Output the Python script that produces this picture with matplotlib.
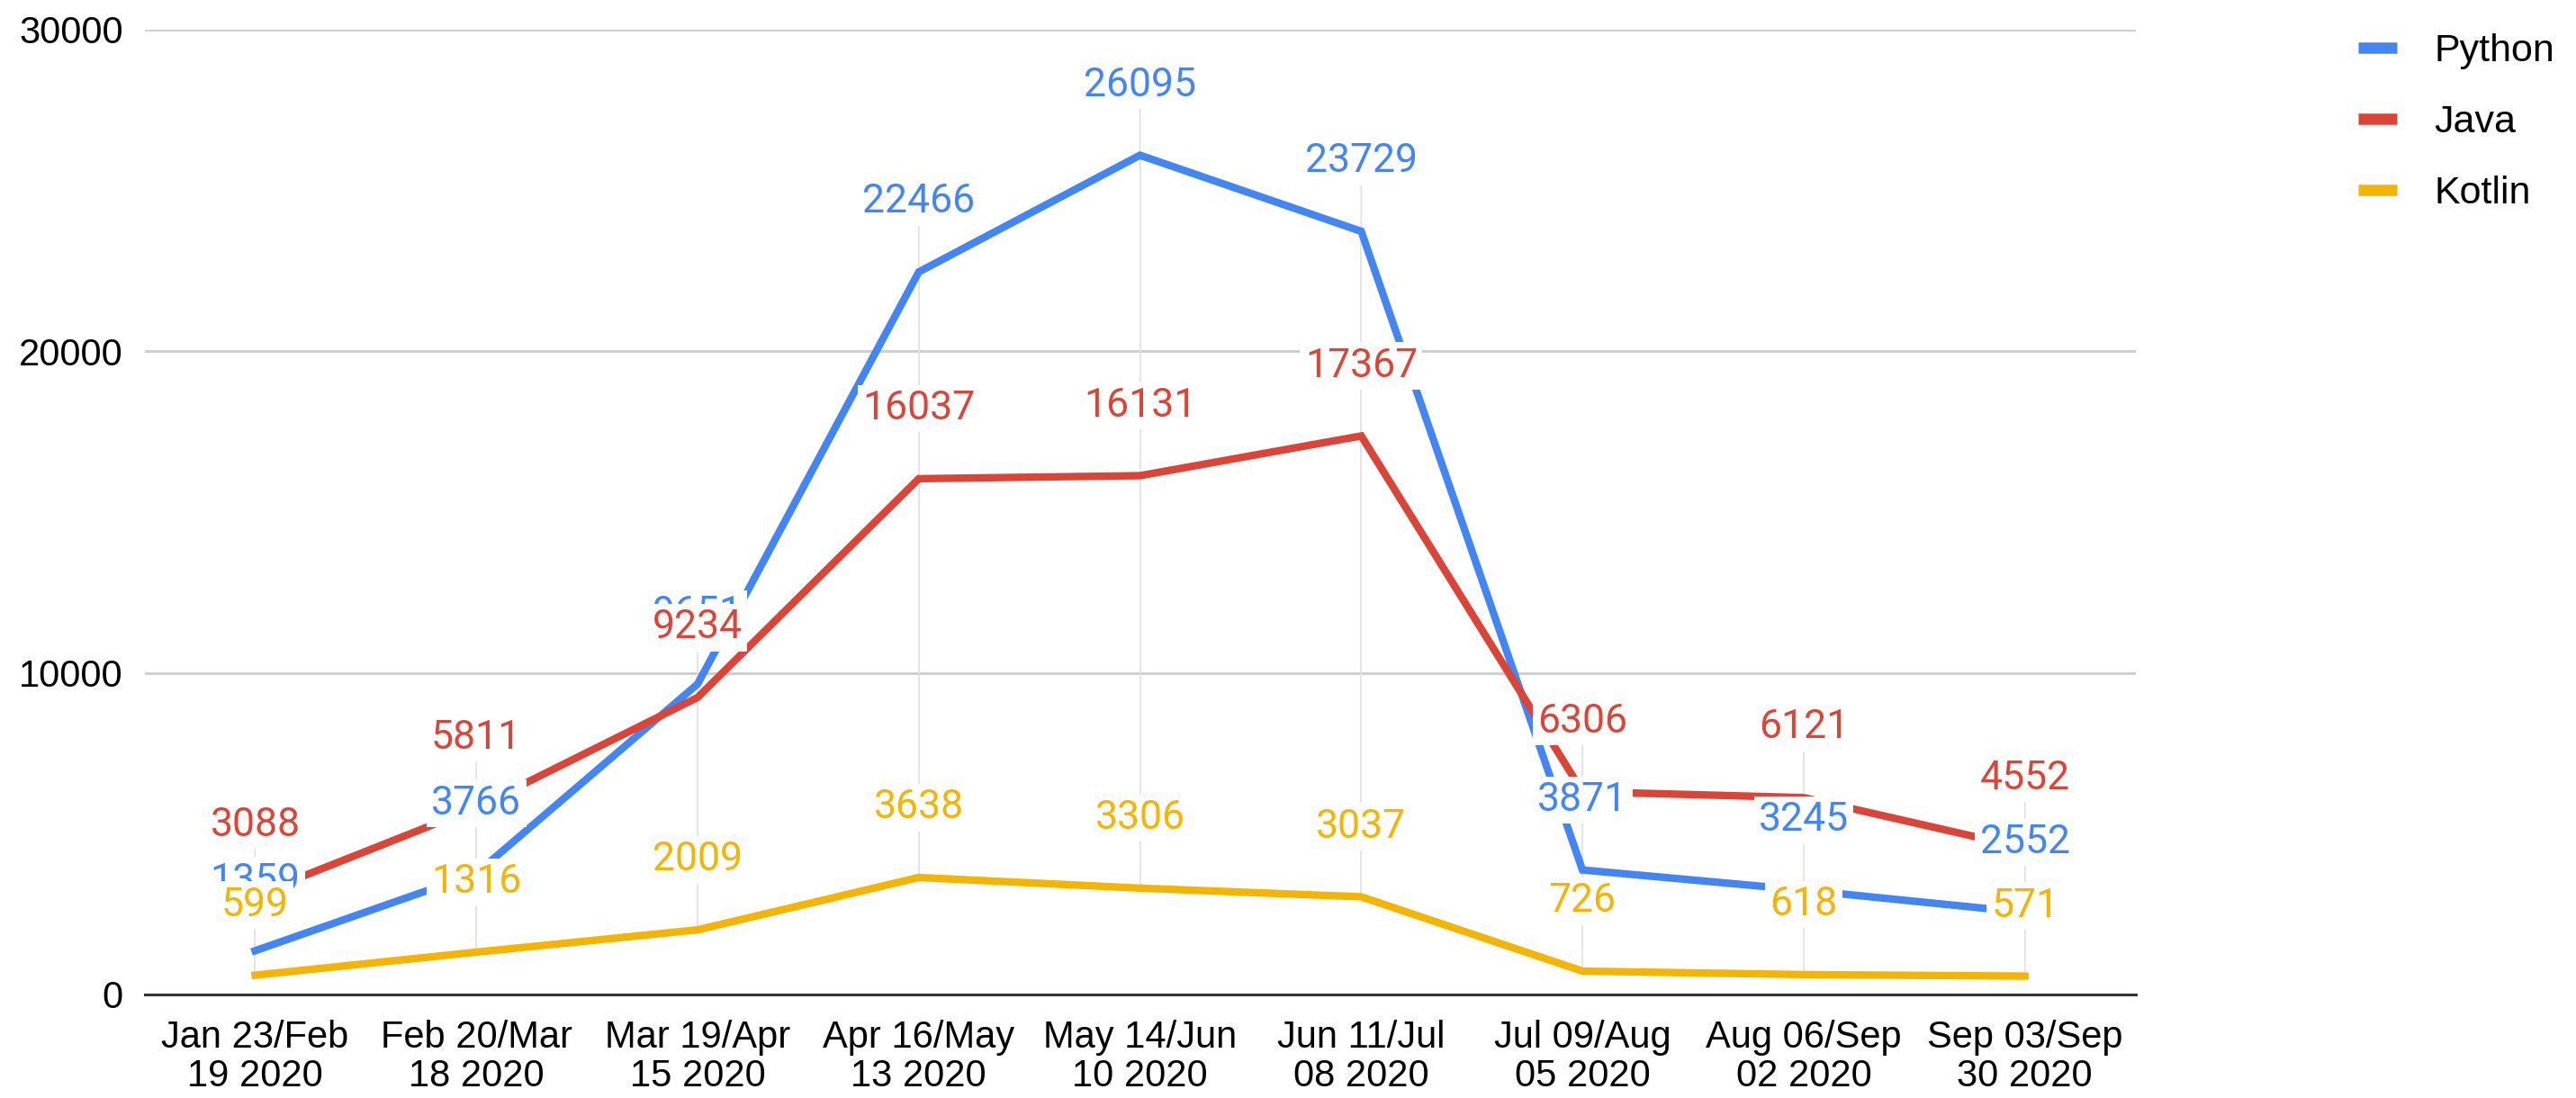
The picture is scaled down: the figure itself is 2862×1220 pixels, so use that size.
import numpy as np
import matplotlib.pyplot as plt
from matplotlib.lines import Line2D

categories = ['Jan 23/Feb\n19 2020', 'Feb 20/Mar\n18 2020', 'Mar 19/Apr\n15 2020',
              'Apr 16/May\n13 2020', 'May 14/Jun\n10 2020', 'Jun 11/Jul\n08 2020',
              'Jul 09/Aug\n05 2020', 'Aug 06/Sep\n02 2020', 'Sep 03/Sep\n30 2020']
python = [1359, 3766, 9651, 22466, 26095, 23729, 3871, 3245, 2552]
java = [3088, 5811, 9234, 16037, 16131, 17367, 6306, 6121, 4552]
kotlin = [599, 1316, 2009, 3638, 3306, 3037, 726, 618, 571]
series_names = ['Python', 'Java', 'Kotlin']
colors = ['#4285F4', '#DB4437', '#F4B400']
y_ticks = [0, 10000, 20000, 30000]

tick_font = 'Liberation Sans'
label_font = 'Roboto'

fig = plt.figure(figsize=(28.62, 12.2), dpi=100)
ax = fig.add_axes([0.0561, 0.0943, 0.829 - 0.0561, 0.973 - 0.0943])

x = np.arange(len(categories))
all_series = [python, java, kotlin]

# thin vertical leader lines at each category
lows = np.min(all_series, axis=0)
highs = np.max(all_series, axis=0)
ax.vlines(x, lows, highs, color='#e0e0e0', lw=1.2, zorder=1)
for i in x:
    ax.annotate('', xy=(i, highs[i]), xytext=(0, 50), textcoords='offset points',
                arrowprops=dict(arrowstyle='-', color='#e0e0e0', lw=1.2,
                                shrinkA=0, shrinkB=0), zorder=1)

for vals, c in zip(all_series, colors):
    ax.plot(x, vals, color=c, lw=6, solid_joinstyle='miter', zorder=3)

for vals, c in zip(all_series, colors):
    for i, v in enumerate(vals):
        ax.annotate(str(v), xy=(i, v), xytext=(0, 56), textcoords='offset points',
                    ha='center', va='center', color=c, fontsize=32, family=label_font,
                    bbox=dict(boxstyle='square,pad=0.12', fc='white', ec='none'),
                    zorder=5)

ax.set_xlim(-0.5, len(categories) - 0.5)
ax.set_ylim(0, 30000)
ax.set_yticks(y_ticks)
ax.set_yticklabels([str(t) for t in y_ticks], fontsize=30, family=tick_font)
ax.set_xticks(x)
ax.set_xticklabels(categories, fontsize=30, family=tick_font, linespacing=1.1)
ax.tick_params(axis='both', length=0)
ax.tick_params(axis='y', pad=17)
ax.tick_params(axis='x', pad=20)

ax.grid(axis='y', color='#cccccc', lw=2)
ax.set_axisbelow(True)
for s in ['top', 'right', 'left']:
    ax.spines[s].set_visible(False)
ax.spines['bottom'].set_color('#333333')
ax.spines['bottom'].set_linewidth(2.2)
ax.spines['bottom'].set_zorder(4)

handles = [Line2D([], [], color=c, lw=9, solid_capstyle='butt') for c in colors]
fig.legend(handles, series_names, loc='upper left', bbox_to_anchor=(0.908, 0.987),
           frameon=False, prop={'family': tick_font, 'size': 31},
           handlelength=1.0, handletextpad=0.95, labelspacing=0.9, borderpad=0)

fig.savefig('out.png', dpi=100, facecolor='white')
